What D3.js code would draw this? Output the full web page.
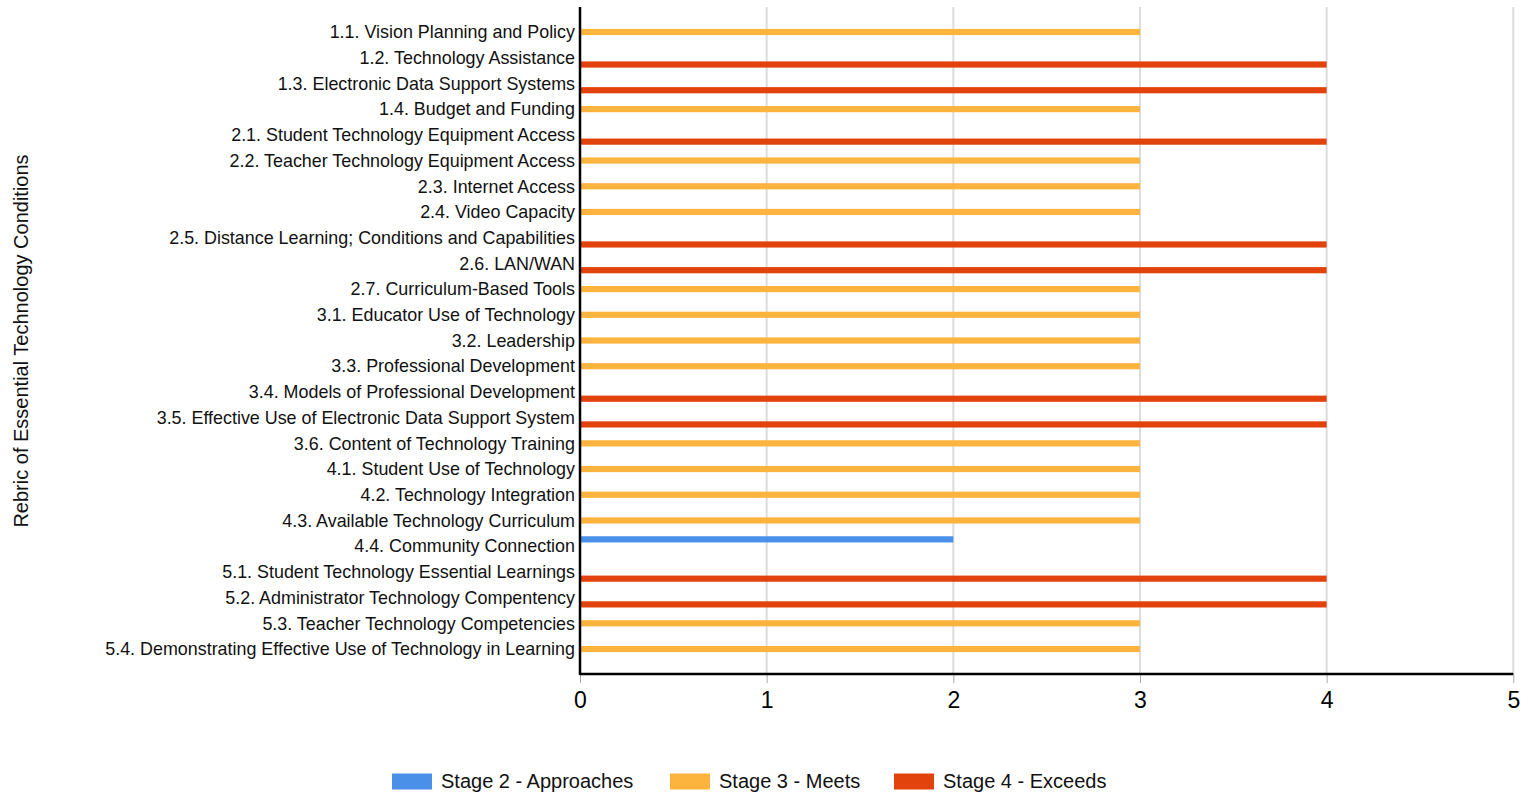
<!DOCTYPE html>
<html>
<head>
<meta charset="utf-8">
<script src="https://cdn.jsdelivr.net/npm/d3@7/dist/d3.min.js"></script>
<style>
  html, body { margin: 0; padding: 0; background: #fff; }
  svg { display: block; font-family: "Liberation Sans", Arial, sans-serif; }
</style>
</head>
<body>
<svg id="chart" width="1526" height="794"></svg>
<script>
const categories = [
  "1.1. Vision Planning and Policy",
  "1.2. Technology Assistance",
  "1.3. Electronic Data Support Systems",
  "1.4. Budget and Funding",
  "2.1. Student Technology Equipment Access",
  "2.2. Teacher Technology Equipment Access",
  "2.3. Internet Access",
  "2.4. Video Capacity",
  "2.5. Distance Learning; Conditions and Capabilities",
  "2.6. LAN/WAN",
  "2.7. Curriculum-Based Tools",
  "3.1. Educator Use of Technology",
  "3.2. Leadership",
  "3.3. Professional Development",
  "3.4. Models of Professional Development",
  "3.5. Effective Use of Electronic Data Support System",
  "3.6. Content of Technology Training",
  "4.1. Student Use of Technology",
  "4.2. Technology Integration",
  "4.3. Available Technology Curriculum",
  "4.4. Community Connection",
  "5.1. Student Technology Essential Learnings",
  "5.2. Administrator Technology Compentency",
  "5.3. Teacher Technology Competencies",
  "5.4. Demonstrating Effective Use of Technology in Learning"
];
const seriesNames = ["Stage 2 - Approaches", "Stage 3 - Meets", "Stage 4 - Exceeds"];
const seriesColors = ["#4a8fe8", "#fdb43f", "#e2420c"];
const stage2 = [null,null,null,null,null,null,null,null,null,null,null,null,null,null,null,null,null,null,null,null,2,null,null,null,null];
const stage3 = [3,null,null,3,null,3,3,3,null,null,3,3,3,3,null,null,3,3,3,3,null,null,null,3,3];
const stage4 = [null,4,4,null,4,null,null,null,4,4,null,null,null,null,4,4,null,null,null,null,null,4,4,null,null];
const xTicks = [0,1,2,3,4,5];
const yTitle = "Rebric of Essential Technology Conditions";

const seriesValues = [stage2, stage3, stage4];
const svg = d3.select("#chart");

const plotLeft = 580, plotRight = 1513.3, plotTop = 7, plotBottom = 674;

const x = d3.scaleLinear().domain([0, 5]).range([plotLeft, plotRight]);
const y = d3.scaleBand().domain(categories).range([19.15, 661.85]).paddingInner(0.23).paddingOuter(0.115);
const ySub = d3.scaleBand().domain(seriesNames).range([0, y.bandwidth()]).paddingInner(0.09);

// gridlines
svg.append("g").selectAll("line").data(xTicks.filter(d => d > 0)).join("line")
  .attr("x1", d => x(d)).attr("x2", d => x(d))
  .attr("y1", plotTop).attr("y2", plotBottom)
  .attr("stroke", "#dcdcdc").attr("stroke-width", 2);

// bars
const rows = [];
categories.forEach((c, i) => {
  seriesNames.forEach((s, j) => {
    const v = seriesValues[j][i];
    if (v != null) rows.push({ c, s, v, color: seriesColors[j] });
  });
});
svg.append("g").selectAll("rect").data(rows).join("rect")
  .attr("x", x(0))
  .attr("y", d => y(d.c) + ySub(d.s))
  .attr("width", d => x(d.v) - x(0))
  .attr("height", ySub.bandwidth())
  .attr("fill", d => d.color);

// bottom axis
const xAxis = d3.axisBottom(x).tickValues(xTicks).tickSize(9).tickPadding(9).tickFormat(d3.format("d"));
const gx = svg.append("g").attr("transform", `translate(0,${plotBottom})`).call(xAxis);
gx.select(".domain").remove();
gx.selectAll(".tick line").attr("stroke", "#aaa").attr("stroke-width", 1);
gx.selectAll(".tick text").attr("font-size", 23).attr("fill", "#000")
  .attr("font-family", "Liberation Sans, Arial, sans-serif");

// axis lines
svg.append("line").attr("x1", plotLeft).attr("x2", plotRight).attr("y1", plotBottom).attr("y2", plotBottom)
  .attr("stroke", "#000").attr("stroke-width", 2.5);
svg.append("line").attr("x1", plotLeft).attr("x2", plotLeft).attr("y1", plotTop).attr("y2", plotBottom + 1)
  .attr("stroke", "#000").attr("stroke-width", 2.5);

// category labels
svg.append("g").selectAll("text").data(categories).join("text")
  .attr("x", 575)
  .attr("y", d => y(d) + y.bandwidth() / 2)
  .attr("dy", "0.35em")
  .attr("text-anchor", "end")
  .attr("font-size", 17.9)
  .attr("fill", "#111")
  .text(d => d);

// y title
svg.append("text")
  .attr("transform", `translate(28,341) rotate(-90)`)
  .attr("text-anchor", "middle")
  .attr("font-size", 20)
  .attr("fill", "#111")
  .text(yTitle);

// legend
const legendX = [392, 670, 894];
const lg = svg.append("g").selectAll("g").data(seriesNames).join("g")
  .attr("transform", (d, i) => `translate(${legendX[i]},781)`);
lg.append("rect").attr("x", 0).attr("y", -7.5).attr("width", 40).attr("height", 16)
  .attr("fill", (d, i) => seriesColors[i]);
lg.append("text").attr("x", 49).attr("y", 0).attr("dy", "0.35em")
  .attr("font-size", 20).attr("fill", "#111").text(d => d);
</script>
</body>
</html>
